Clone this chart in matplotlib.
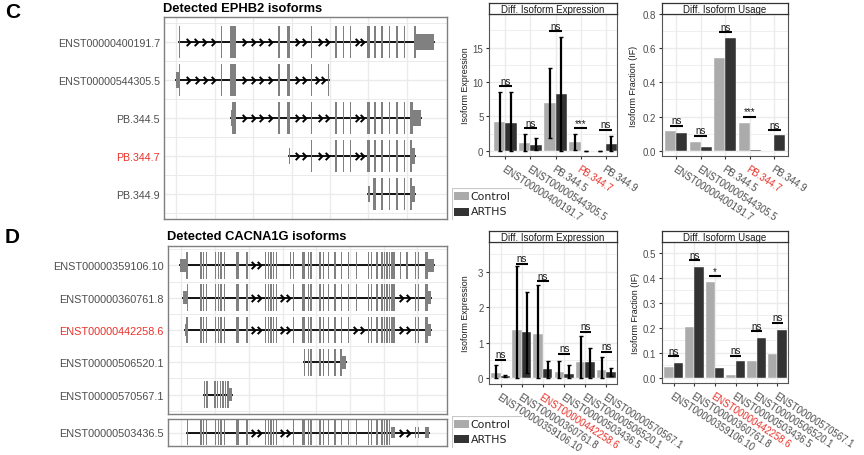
import numpy as np
import matplotlib
matplotlib.use('Agg')
import matplotlib.pyplot as plt
from matplotlib.path import Path
from matplotlib.patches import Rectangle

plt.rcParams['font.family'] = ['Liberation Sans', 'DejaVu Sans']

# ---------------- data ----------------
# EPHB2 transcripts: exon blocks in relative genomic units (coding, utr)
ephb2_ids = ['ENST00000400191.7', 'ENST00000544305.5', 'PB.344.5', 'PB.344.7', 'PB.344.9']
ephb2_hit = 'PB.344.7'
ephb2_cds = [
    [(537, 541), (663, 667), (691, 707), (835, 840), (860, 870), (932, 937), (1005, 1010), (1028, 1032),
     (1050, 1054), (1100, 1110), (1122, 1127), (1143, 1148), (1165, 1170), (1188, 1192), (1210, 1215), (1240, 1248)],
    [(538, 542), (663, 667), (691, 707), (835, 840), (860, 870), (932, 937), (983, 987)],
    [(697, 708), (835, 840), (860, 870), (932, 937), (1005, 1010), (1028, 1032), (1050, 1054), (1100, 1110),
     (1122, 1127), (1143, 1148), (1165, 1170), (1188, 1192), (1210, 1215), (1230, 1237)],
    [(932, 937), (1005, 1010), (1028, 1032), (1050, 1054), (1100, 1110), (1122, 1127), (1143, 1148),
     (1165, 1170), (1188, 1192), (1210, 1215), (1230, 1236)],
    [(1118, 1128), (1143, 1148), (1165, 1170), (1188, 1192), (1210, 1215), (1230, 1236)],
]
ephb2_utr = [
    [(1248, 1300)],
    [(530, 538)],
    [(693, 697), (1237, 1262)],
    [(866, 870), (1236, 1245)],
    [(1105, 1109), (1236, 1245)],
]

# CACNA1G transcripts
cacna_ids = ['ENST00000359106.10', 'ENST00000360761.8', 'ENST00000442258.6',
             'ENST00000506520.1', 'ENST00000570567.1']
cacna_extra_id = 'ENST00000503436.5'
cacna_hit = 'ENST00000442258.6'
core_a = [(602, 606), (610, 614), (619, 623), (645, 649), (654, 658), (662, 666), (672, 676), (709, 718),
          (739, 743), (794, 798), (803, 807), (811, 815), (819, 823), (827, 831)]
core_b = [(905, 915), (923, 927), (931, 935), (958, 962), (968, 972), (983, 987), (1003, 1007), (1023, 1027),
          (1043, 1047)]
core_c = [(1103, 1107), (1113, 1117), (1128, 1132), (1143, 1147), (1150, 1154), (1158, 1162), (1165, 1169)]
core_d = [(1173, 1177), (1179, 1183)]
core_e = [(1243, 1247), (1253, 1257), (1274, 1283)]
cacna_cds = [
    [(560, 564)] + core_a + [(869, 873), (879, 883)] + core_b + [(1068, 1072)] + core_c + core_d
    + [(1198, 1202), (1218, 1222)] + core_e,
    [(562, 566)] + core_a + [(879, 883)] + core_b + [(1068, 1072)] + core_c + core_d + core_e,
    [(560, 564)] + core_a + [(879, 883)] + core_b + core_c + core_d + core_e,
    [(911, 915), (923, 927), (931, 935), (958, 962), (968, 972), (983, 987), (1003, 1007), (1021, 1027)],
    [(612, 616), (620, 624), (644, 648), (652, 656), (660, 664), (668, 672), (676, 680), (683, 687)],
]
cacna_utr = [
    [(542, 560), (1283, 1300)],
    [(549, 562), (1283, 1293)],
    [(555, 560), (1283, 1293)],
    [(1027, 1038)],
    [(687, 697)],
]
cacna_extra_cds = [(561, 565)] + core_a + [(879, 883)] + core_b + [(1068, 1072)] + core_c
cacna_extra_utr = core_d + [(1243, 1247), (1253, 1257), (1274, 1285)]

# differential expression / usage
ephb2_expr_ctrl = [4.2, 1.1, 6.9, 1.3, 0.0]
ephb2_expr_arths = [4.05, 0.8, 8.25, 0.0, 0.97]
ephb2_expr_ctrl_lo = [0.0, 0.0, 1.8, 0.1, 0.0]
ephb2_expr_ctrl_hi = [8.6, 2.5, 12.1, 2.5, 0.0]
ephb2_expr_arths_lo = [0.0, 0.1, 0.0, 0.0, 0.0]
ephb2_expr_arths_hi = [8.6, 1.8, 16.5, 0.0, 2.1]
ephb2_expr_sig = [9.37, 3.3, 17.4, 3.3, 3.06]
ephb2_expr_lab = ['ns', 'ns', 'ns', '***', 'ns']

ephb2_if_ctrl = [0.113, 0.053, 0.54, 0.164, 0.0]
ephb2_if_arths = [0.105, 0.021, 0.661, 0.004, 0.09]
ephb2_if_sig = [0.146, 0.088, 0.693, 0.199, 0.121]
ephb2_if_lab = ['ns', 'ns', 'ns', '***', 'ns']

cacna_bar_ids = ['ENST00000359106.10', 'ENST00000360761.8', 'ENST00000442258.6',
                 'ENST00000503436.5', 'ENST00000506520.1', 'ENST00000570567.1']
cacna_expr_ctrl = [0.13, 1.35, 1.24, 0.16, 0.44, 0.23]
cacna_expr_arths = [0.06, 1.29, 0.25, 0.11, 0.46, 0.18]
cacna_expr_ctrl_lo = [0.0, 0.0, 0.0, 0.0, 0.0, 0.0]
cacna_expr_ctrl_hi = [0.37, 3.16, 2.63, 0.47, 1.19, 0.58]
cacna_expr_arths_lo = [0.02, 0.14, 0.0, 0.0, 0.0, 0.06]
cacna_expr_arths_hi = [0.09, 2.43, 0.48, 0.38, 0.86, 0.28]
cacna_expr_sig = [0.52, 3.23, 2.74, 0.68, 1.31, 0.74]
cacna_expr_lab = ['ns', 'ns', 'ns', 'ns', 'ns', 'ns']

cacna_if_ctrl = [0.043, 0.203, 0.383, 0.013, 0.067, 0.096]
cacna_if_arths = [0.06, 0.445, 0.04, 0.067, 0.16, 0.193]
cacna_if_sig = [0.087, 0.47, 0.407, 0.089, 0.187, 0.22]
cacna_if_lab = ['ns', 'ns', '*', 'ns', 'ns', 'ns']

# ---------------- style ----------------
W, H = 864, 456
CTRL = '#ABABAB'
ARTHS = '#333333'
EXON = '#808080'
GRID = '#EBEBEB'
RED = '#E8312A'
TXT = '#4D4D4D'

fig = plt.figure(figsize=(8.64, 4.56), dpi=100)

chevron = Path([(-0.5, 1.0), (0.5, 0.0), (-0.5, -1.0)], [Path.MOVETO, Path.LINETO, Path.LINETO])


def box(x0, y0, x1, y1):
    return fig.add_axes([x0 / W, 1 - y1 / H, (x1 - x0) / W, (y1 - y0) / H])


def draw_transcript(ax, y, cds, utr, hh=0.415):
    blocks = sorted(cds + utr)
    ax.plot([blocks[0][0], blocks[-1][1]], [y, y], color='black', lw=1.3, zorder=2)
    for (a0, a1), (b0, b1) in zip(blocks[:-1], blocks[1:]):
        gap = b0 - a1
        if gap > 40:
            n = max(2, int(round(gap / 30)))
            xs = a1 + gap * np.arange(1, n + 1) / (n + 1)
            ax.plot(xs, [y] * n, ls='none', marker=chevron, ms=5.2, mec='black', mfc='none',
                    mew=1.4, zorder=3)
    for s, e in cds:
        ax.add_patch(Rectangle((s, y - hh), e - s, 2 * hh, fc=EXON, ec='none', zorder=4))
    for s, e in utr:
        ax.add_patch(Rectangle((s, y - 0.2), e - s, 0.4, fc=EXON, ec='none', zorder=4))


def gene_axes(ax, xlim, ylim, xgrid, names, hit, fs):
    ax.set_xlim(*xlim)
    ax.set_ylim(*ylim)
    for gx in xgrid:
        ax.axvline(gx, color=GRID, lw=1.0, zorder=0)
    lo, hi = sorted(ylim)
    for gy in np.arange(0.5, hi, 0.5):
        if gy > lo:
            ax.axhline(gy, color=GRID, lw=1.0 if gy % 1 == 0 else 0.7, zorder=0)
    ax.set_xticks([])
    ax.set_yticks(np.arange(1, len(names) + 1))
    ax.set_yticklabels(names, fontsize=fs)
    for t, n in zip(ax.get_yticklabels(), names):
        t.set_color(RED if n == hit else TXT)
    ax.tick_params(axis='y', length=0, pad=3)
    for sp in ax.spines.values():
        sp.set_color('#7F7F7F')
        sp.set_linewidth(1.0)


# ---------------- gene structure panels ----------------
fig.text(5 / W, 1 - 12 / H, 'C', fontsize=15, fontweight='bold', va='center', ha='left')
fig.text(163 / W, 1 - 9 / H, 'Detected EPHB2 isoforms', fontsize=9.3, fontweight='bold', va='center', ha='left')
axc = box(164, 18, 447, 220)
gene_axes(axc, (493, 1340), (5.66, 0.34), [530, 645, 760, 875, 990, 1105, 1220], ephb2_ids, ephb2_hit, 7.7)
for i in range(len(ephb2_ids)):
    draw_transcript(axc, i + 1, ephb2_cds[i], ephb2_utr[i])

fig.text(5 / W, 1 - 238 / H, 'D', fontsize=15, fontweight='bold', va='center', ha='left')
fig.text(167 / W, 1 - 237 / H, 'Detected CACNA1G isoforms', fontsize=9.3, fontweight='bold', va='center', ha='left')
dgrid = [545, 646, 747, 848, 949, 1050, 1150, 1251]
axd = box(168, 247, 447, 415)
gene_axes(axd, (505, 1340), (5.6, 0.4), dgrid, cacna_ids, cacna_hit, 7.8)
for i in range(len(cacna_ids)):
    draw_transcript(axd, i + 1, cacna_cds[i], cacna_utr[i])
axd2 = box(168, 420, 447, 447)
gene_axes(axd2, (505, 1340), (1.48, 0.52), dgrid, [cacna_extra_id], cacna_hit, 7.8)
draw_transcript(axd2, 1, cacna_extra_cds, cacna_extra_utr, hh=0.43)


# ---------------- bar panels ----------------
def bar_panel(px, title, ids, hit, ctrl, arths, xlim, ylim, yticks, ytl, ylabel, ylabel_x,
              sig_y, sig_lab, err=None):
    x0, y0, x1, y1 = px
    ax = box(x0, y0, x1, y1)
    n = len(ids)
    pos = np.arange(1, n + 1)
    ax.set_xlim(*xlim)
    ax.set_ylim(*ylim)
    for p in pos:
        ax.axvline(p, color=GRID, lw=1.0, zorder=0)
    step = yticks[1] - yticks[0]
    for t in np.arange(yticks[0] - step / 2, ylim[1], step / 2):
        if t > ylim[0]:
            ax.axhline(t, color=GRID, lw=1.0 if np.isclose((t / step) % 1, 0) or np.isclose((t / step) % 1, 1) else 0.6, zorder=0)
    ax.bar(pos - 0.225, ctrl, width=0.45, color=CTRL, edgecolor='white', linewidth=0.3, zorder=2)
    ax.bar(pos + 0.225, arths, width=0.45, color=ARTHS, edgecolor='white', linewidth=0.3, zorder=2)
    if err is not None:
        clo, chi, alo, ahi = [np.array(e) for e in err]
        cv, av = np.array(ctrl), np.array(arths)
        ax.errorbar(pos - 0.225, cv, yerr=[cv - clo, chi - cv], fmt='none', ecolor='black',
                    elinewidth=1.6, capsize=1.5, capthick=1.0, zorder=3)
        ax.errorbar(pos + 0.225, av, yerr=[av - alo, ahi - av], fmt='none', ecolor='black',
                    elinewidth=1.6, capsize=1.5, capthick=1.0, zorder=3)
    for p, sy, lab in zip(pos, sig_y, sig_lab):
        ax.plot([p - 0.27, p + 0.27], [sy, sy], color='black', lw=1.5, zorder=4, solid_capstyle='butt')
        ax.annotate(lab, (p, sy), xytext=(0, 0.3), textcoords='offset points', ha='center', va='bottom',
                    fontsize=7, color='#1A1A1A', zorder=5)
    ax.set_yticks(yticks)
    ax.set_yticklabels(ytl, fontsize=7, color=TXT)
    ax.set_xticks(pos)
    ax.set_xticklabels(ids, fontsize=6.9, rotation=-33, ha='left', va='top', rotation_mode='anchor')
    for t, nm in zip(ax.get_xticklabels(), ids):
        t.set_color(RED if nm == hit else TXT)
    ax.tick_params(length=2.5, width=0.8, color='#333333', pad=1.5)
    ax.tick_params(axis='x', pad=2.5)
    for sp in ax.spines.values():
        sp.set_color('#555555')
        sp.set_linewidth(0.8)
    fig.text(ylabel_x / W, 1 - (y0 + y1) / 2 / H, ylabel, rotation=90, fontsize=6.4,
             ha='center', va='center', color='#1A1A1A')
    st = box(x0, y0 - 11, x1, y0)
    st.set_xticks([])
    st.set_yticks([])
    for sp in st.spines.values():
        sp.set_color('#333333')
        sp.set_linewidth(0.9)
    st.text(0.5, 0.45, title, transform=st.transAxes, ha='center', va='center', fontsize=7, color='#1A1A1A')
    return ax


def legend_box(x0, y0, rows):
    lg = box(x0, y0, x0 + 70, y0 + 32)
    lg.set_xlim(0, 70)
    lg.set_ylim(32, 0)
    lg.axis('off')
    lg.plot([0, 0, 70], [32, 0, 0], color='#C8C8C8', lw=0.8)
    for (ky, col, lab) in rows:
        lg.add_patch(Rectangle((2, ky - 4), 15, 8, fc=col, ec='none'))
        lg.text(18.5, ky, lab, fontsize=7.9, va='center', ha='left', color='#222222', family='DejaVu Sans')


bar_panel((489, 15, 617, 157), 'Diff. Isoform Expression', ephb2_ids, ephb2_hit,
          ephb2_expr_ctrl, ephb2_expr_arths, (0.35, 5.45), (-0.77, 19.9),
          [0, 5, 10, 15], ['0', '5', '10', '15'], 'Isoform Expression', 466,
          ephb2_expr_sig, ephb2_expr_lab,
          err=(ephb2_expr_ctrl_lo, ephb2_expr_ctrl_hi, ephb2_expr_arths_lo, ephb2_expr_arths_hi))
bar_panel((662, 15, 788, 157), 'Diff. Isoform Usage', ephb2_ids, ephb2_hit,
          ephb2_if_ctrl, ephb2_if_arths, (0.42, 5.56), (-0.031, 0.80),
          [0, 0.2, 0.4, 0.6, 0.8], ['0.0', '0.2', '0.4', '0.6', '0.8'], 'Isoform Fraction (IF)', 634,
          ephb2_if_sig, ephb2_if_lab)
legend_box(452, 189, [(8, CTRL, 'Control'), (23.5, ARTHS, 'ARTHS')])

bar_panel((489, 243, 617, 385), 'Diff. Isoform Expression', cacna_bar_ids, cacna_hit,
          cacna_expr_ctrl, cacna_expr_arths, (0.45, 6.5), (-0.17, 3.84),
          [0, 1, 2, 3], ['0', '1', '2', '3'], 'Isoform Expression', 466,
          cacna_expr_sig, cacna_expr_lab,
          err=(cacna_expr_ctrl_lo, cacna_expr_ctrl_hi, cacna_expr_arths_lo, cacna_expr_arths_hi))
bar_panel((662, 243, 788, 384), 'Diff. Isoform Usage', cacna_bar_ids, cacna_hit,
          cacna_if_ctrl, cacna_if_arths, (0.44, 6.52), (-0.02, 0.543),
          [0, 0.1, 0.2, 0.3, 0.4, 0.5], ['0.0', '0.1', '0.2', '0.3', '0.4', '0.5'],
          'Isoform Fraction (IF)', 635, cacna_if_sig, cacna_if_lab)
legend_box(452, 417, [(8, CTRL, 'Control'), (23, ARTHS, 'ARTHS')])

fig.savefig('out.png', dpi=100)
